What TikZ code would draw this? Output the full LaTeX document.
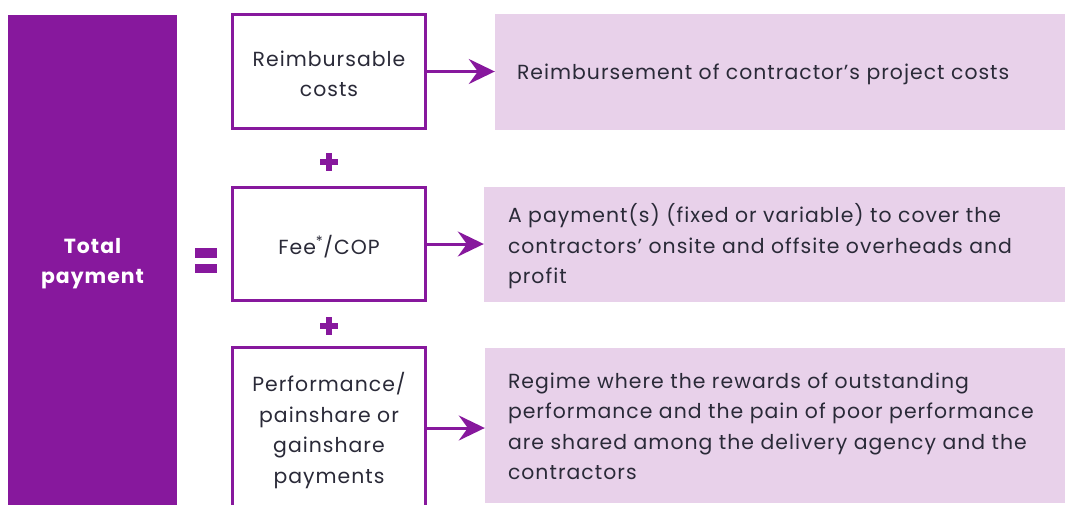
\documentclass[tikz,border=0pt]{standalone}
\usepackage{fontspec}
\setmainfont{Poppins}[LetterSpace=5]
\usetikzlibrary{arrows.meta}
\definecolor{vpurple}{RGB}{135,24,157}
\definecolor{vpink}{RGB}{232,209,234}
\definecolor{vtext}{RGB}{42,42,56}
\tikzset{
  lbox/.style={draw=vpurple, line width=3pt, fill=white, minimum width=193pt,
    inner sep=0pt},
  ltext/.style={align=center, text=vtext, inner sep=0pt, yshift=-2.5pt,
    font=\fontsize{20.4}{30.5}\selectfont},
  rbox/.style={fill=vpink, inner sep=0pt},
  rtext/.style={align=left, text=vtext, inner sep=0pt, anchor=west, yshift=-2pt,
    font=\fontsize{20.4}{30.5}\selectfont},
  arr/.style={draw=vpurple, line width=3pt,
    -{Stealth[length=26pt, width=25pt, inset=9pt]}},
  markfill/.style={fill=vpurple, draw=none}
}
\begin{document}
\begin{tikzpicture}[x=1pt, y=-1pt]
\useasboundingbox (0,0) rectangle (1065,504);
\clip (0,0) rectangle (1065,504);

% total payment bar
\node[fill=vpurple, minimum width=169pt, minimum height=492pt, inner sep=0pt]
  (total) at (92.5,261) {};
\node[ltext, text=white, font=\fontsize{20.4}{30.5}\selectfont\bfseries]
  (totalt) at (total.center) {Total\\payment};

% equals sign
\fill[markfill] (195,248) rectangle (217,257.5);
\fill[markfill] (195,263.5) rectangle (217,273);

% left boxes
\node[lbox, minimum height=114pt] (b1) at (329,71.5) {};
\node[ltext] (b1t) at (b1.center) {Reimbursable\\costs};
\node[lbox, minimum height=113pt] (b2) at (329,244) {};
\node[ltext] (b2t) at (b2.center) {Fee\textsuperscript{*}/COP};
\node[lbox, minimum height=162pt] (b3) at (329,428) {};
\node[ltext] (b3t) at (b3.center) {Performance/\\painshare or\\gainshare\\payments};

% plus signs
\fill[markfill] (320,159) rectangle (338,165);
\fill[markfill] (326,153) rectangle (332,171);
\fill[markfill] (320,323) rectangle (338,329);
\fill[markfill] (326,317) rectangle (332,335);

% right boxes
\node[rbox, minimum width=570pt, minimum height=116pt] (r1) at (780,72) {};
\node[rtext] (r1t) at ([xshift=22pt]r1.west)
  {Reimbursement of contractor’s project costs};
\node[rbox, minimum width=581pt, minimum height=115pt] (r2) at (774.5,244.5) {};
\node[rtext] (r2t) at ([xshift=24pt]r2.west)
  {A payment(s) (fixed or variable) to cover the\\contractors’ onsite and offsite overheads and\\profit};
\node[rbox, minimum width=580pt, minimum height=155pt] (r3) at (775,425.5) {};
\node[rtext, yshift=1pt] (r3t) at ([xshift=23pt]r3.west)
  {Regime where the rewards of outstanding\\performance and the pain of poor performance\\are shared among the delivery agency and the\\contractors};

% arrows
\draw[arr] (b1.east) -- (b1.east -| r1.west);
\draw[arr] (b2.east) -- (b2.east -| r2.west);
\draw[arr] (b3.east) -- (b3.east -| r3.west);
\end{tikzpicture}
\end{document}
